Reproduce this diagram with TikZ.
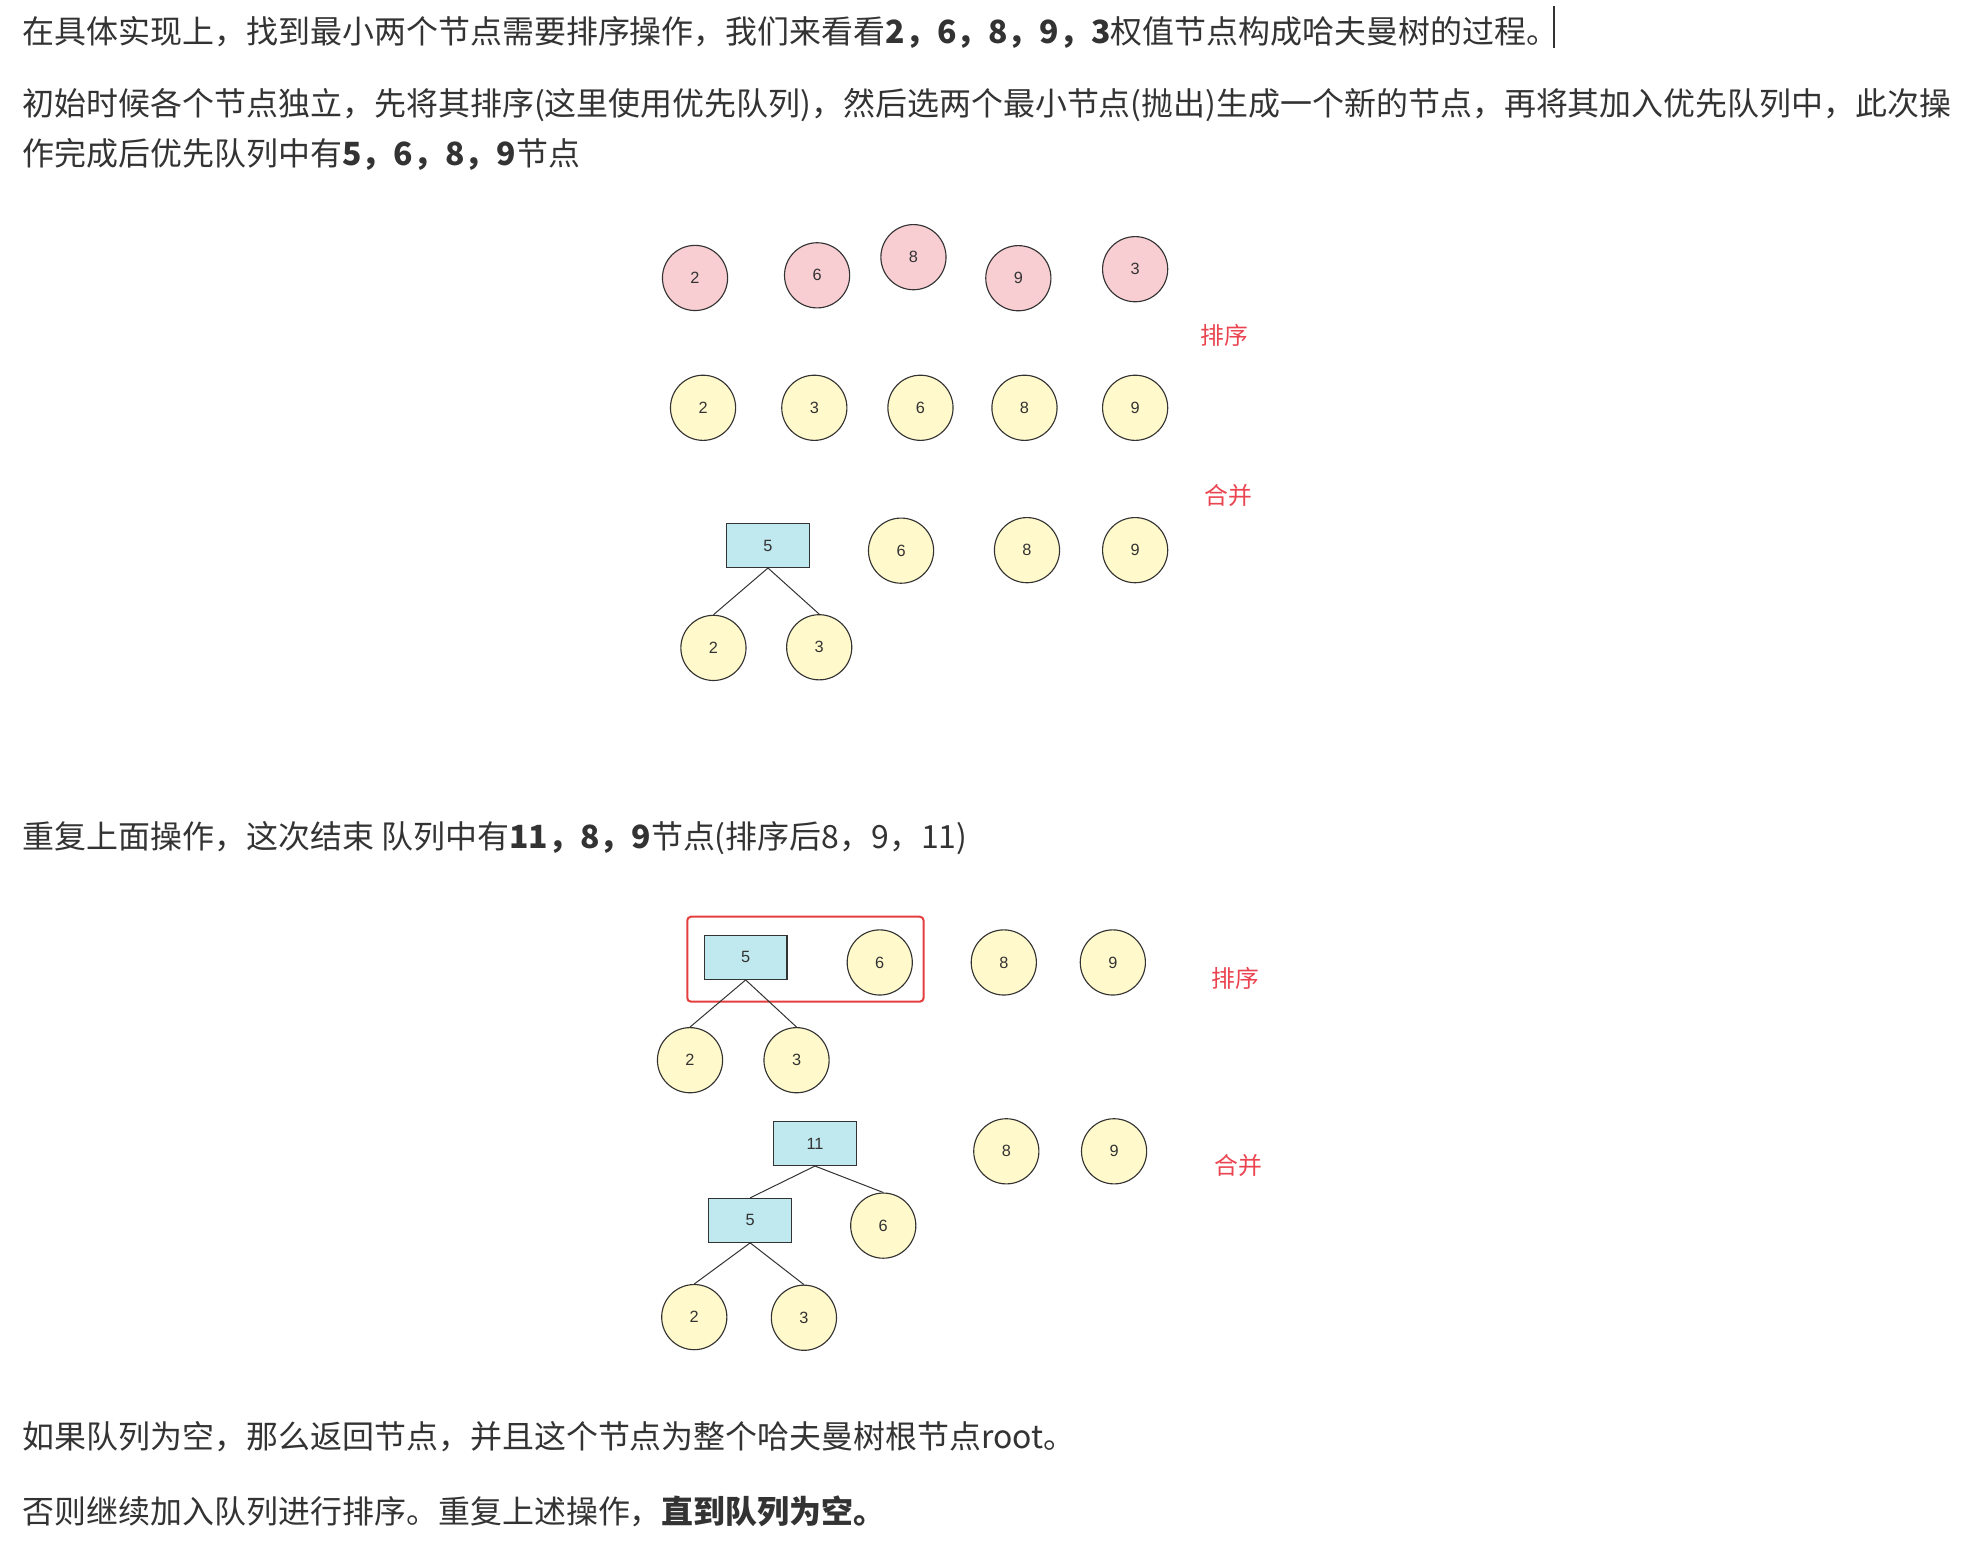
\documentclass[tikz,border=0pt]{standalone}
\usepackage{fontspec}
\setmainfont{Noto Sans CJK SC}
\newfontfamily\numfont{Liberation Sans}
\usepackage{xcolor}
\definecolor{ink}{HTML}{333333}
\definecolor{pinkfill}{HTML}{F8CED3}
\definecolor{yellowfill}{HTML}{FFF9CB}
\definecolor{bluefill}{HTML}{BFE8EF}
\definecolor{labelred}{HTML}{EA4450}
\definecolor{boxred}{HTML}{E53E3E}

\begin{document}
\begin{tikzpicture}[
  x=1pt, y=-1pt,
  txt/.style={anchor=base west,inner sep=0pt,text=ink,font=\fontsize{25.5}{30}\selectfont},
  nd/.style={circle,draw=ink,line width=0.9pt,minimum size=52pt,inner sep=0pt,text=ink,font={\numfont\fontsize{13}{15}\selectfont}},
  pk/.style={nd,fill=pinkfill},
  yl/.style={nd,fill=yellowfill},
  bx/.style={nd,rectangle,fill=bluefill,minimum width=66pt,minimum height=35pt},
  lbl/.style={text=labelred,inner sep=0pt,font=\fontsize{19}{22}\selectfont},
  edge/.style={draw=ink,line width=0.8pt},
]
\useasboundingbox (0,0) rectangle (1568,1231);

\node[txt] (t1) at (18,34.5) {在具体实现上，找到最小两个节点需要排序操作，我们来看看\textbf{2，6，8，9，3}权值节点构成哈夫曼树的过程。};
\draw[ink,line width=1.2pt] (1240,5) -- (1240,38);
\node[txt] (t2) at (18,92) {初始时候各个节点独立，先将其排序(这里使用优先队列)，然后选两个最小节点(抛出)生成一个新的节点，再将其加入优先队列中，此次操};
\node[txt] (t3) at (18,132) {作完成后优先队列中有\textbf{5，6，8，9}节点};

\node[pk] (p2) at (554.6,221.8) {2};
\node[pk] (p6) at (652,219.7)   {6};
\node[pk] (p8) at (728.9,205.2) {8};
\node[pk] (p9) at (812.6,222)   {9};
\node[pk] (p3) at (905.8,214.8) {3};
\node[lbl] (l1) at (977,268) {排序};

\node[yl] (s2) at (561,325.4)   {2};
\node[yl] (s3) at (649.8,325.4) {3};
\node[yl] (s6) at (734.5,325.4) {6};
\node[yl] (s8) at (817.5,325.4) {8};
\node[yl] (s9) at (905.8,325.4) {9};
\node[lbl] (l2) at (980,395) {合并};

\node[bx] (m5) at (612.8,435.3) {5};
\node[yl] (m6) at (719,439.4)   {6};
\node[yl] (m8) at (819.5,439)   {8};
\node[yl] (m9) at (905.8,439)   {9};
\node[yl] (m2) at (569.3,517)   {2};
\node[yl] (m3) at (653.7,516.5) {3};
\draw[edge] (m5.south) -- (m2.north);
\draw[edge] (m5.south) -- (m3.north);

\node[txt] (t4) at (18,677) {重复上面操作，这次结束 队列中有\textbf{11，8，9}节点(排序后8，9，11)};

\node[bx] (a5) at (595,764)   {5};
\node[yl] (a6) at (702,768)   {6};
\node[yl] (a8) at (801,768)   {8};
\node[yl] (a9) at (888,768)   {9};
\node[yl] (a2) at (550.6,846) {2};
\node[yl] (a3) at (635.6,846) {3};
\node[draw=boxred,line width=1.6pt,rounded corners=3pt,minimum width=188.6pt,minimum height=67.8pt] (sel) at (642.7,765.4) {};
\node[lbl] (l3) at (986,781) {排序};
\draw[edge] (a5.south) -- (a2.north);
\draw[edge] (a5.south) -- (a3.north);

\node[bx] (b11) at (650.3,912.5) {11};
\node[yl] (b8) at (803,918.7)    {8};
\node[yl] (b9) at (889,918.7)    {9};
\node[lbl] (l4) at (988,930) {合并};
\node[bx] (b5) at (598.6,973.8)  {5};
\node[yl] (b6) at (704.8,978)    {6};
\node[yl] (b2) at (554,1051)     {2};
\node[yl] (b3) at (641.5,1051.5) {3};
\draw[edge] (b11.south) -- (b5.north);
\draw[edge] (b11.south) -- (b6.north);
\draw[edge] (b5.south) -- (b2.north);
\draw[edge] (b5.south) -- (b3.north);

\node[txt] (t5) at (18,1156) {如果队列为空，那么返回节点，并且这个节点为整个哈夫曼树根节点root。};
\node[txt] (t6) at (18,1216) {否则继续加入队列进行排序。重复上述操作，\textbf{直到队列为空。}};
\end{tikzpicture}
\end{document}
